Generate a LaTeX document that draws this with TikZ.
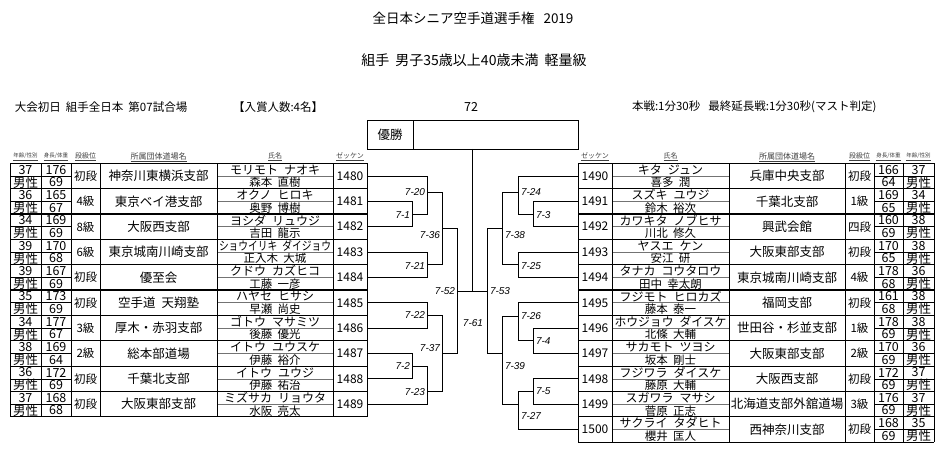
\documentclass[tikz,border=0pt]{standalone}
\usepackage{fontspec}
\usepackage{graphicx}
\setmainfont{Noto Sans CJK JP}
\newfontfamily\matchfont{Liberation Sans}
\usetikzlibrary{calc}

\newlength\fitlen
\newcommand\fitto[2]{\settowidth\fitlen{#2}\ifdim\fitlen>#1\relax\resizebox{#1}{\height}{#2}\else#2\fi}

\begin{document}
\begin{tikzpicture}[x=1pt,y=-1pt,
  every node/.style={inner sep=0pt,outer sep=0pt},
  hd/.style={font=\fontsize{5.5}{6}\selectfont,text=black!75},
  num/.style={font=\fontsize{12.5}{13}\selectfont},
  rank/.style={font=\fontsize{11.5}{12}\selectfont},
  org/.style={font=\fontsize{12.5}{13}\selectfont},
  kana/.style={font=\fontsize{12}{13}\selectfont},
  kanji/.style={font=\fontsize{11.5}{12}\selectfont},
  zk/.style={font=\fontsize{12}{13}\selectfont,minimum width=34pt,minimum height=25.35pt},
  match/.style={font=\matchfont\itshape\fontsize{10}{11}\selectfont},
  head/.style={font=\fontsize{11.5}{12}\selectfont},
  colline/.style={line width=0.8pt},
  rowline/.style={line width=1.2pt},
  half/.style={line width=0.5pt},
  bracket/.style={line width=0.9pt}]
\useasboundingbox (0,0) rectangle (943,449);

% titles
\node (title) [font=\fontsize{13.5}{15}\selectfont] at (473,18) {全日本シニア空手道選手権\hspace{9pt}2019};
\node (event) [font=\fontsize{14}{15}\selectfont] at (474,60) {組手\hspace{6pt}男子35歳以上40歳未満\hspace{6pt}軽量級};
\node (day) [head,anchor=west] at (15,107) {大会初日\hspace{5pt}組手全日本\hspace{5pt}第07試合場};
\node (prize) [head,anchor=west] at (233,107) {【入賞人数:4名】};
\node (count) [font=\fontsize{12.5}{13}\selectfont] at (471,107) {72};
\node (rule) [head,anchor=west] at (632,107) {本戦:1分30秒\hspace{8pt}最終延長戦:1分30秒(マスト判定)};

% winner box
\node (yusho) [draw,line width=0.9pt,minimum width=46pt,minimum height=29pt,anchor=west,
  font=\fontsize{12.5}{13}\selectfont] at (367,134.5) {優勝};
\node (winner) [draw,line width=0.9pt,minimum width=165pt,minimum height=29pt,anchor=west] at (yusho.east) {};

% column heads
\node[hd] at (25.5,157) {\underline{年齢/性別}};
\node[hd] at (56,157) {\underline{身長/体重}};
\node[hd,font=\fontsize{7}{8}\selectfont] at (85.5,157) {\underline{段級位}};
\node[hd,font=\fontsize{8}{9}\selectfont] at (158.5,157) {\underline{所属団体道場名}};
\node[hd,font=\fontsize{7}{8}\selectfont] at (275,157) {\underline{氏名}};
\node[hd,font=\fontsize{7}{8}\selectfont] at (350,157) {\underline{ゼッケン}};
\node[hd,font=\fontsize{7}{8}\selectfont] at (595,157) {\underline{ゼッケン}};
\node[hd,font=\fontsize{7}{8}\selectfont] at (670.5,157) {\underline{氏名}};
\node[hd,font=\fontsize{8}{9}\selectfont] at (787,157) {\underline{所属団体道場名}};
\node[hd,font=\fontsize{7}{8}\selectfont] at (859.5,157) {\underline{段級位}};
\node[hd] at (888.5,157) {\underline{身長/体重}};
\node[hd] at (918.5,157) {\underline{年齢/性別}};

% left table
\foreach \ag/\hg/\wg/\rk/\org/\kf/\kg/\jf/\jg/\zk [count=\i from 0] in {
  37/176/69/初段/神奈川東横浜支部/モリモト/ナオキ/森本/直樹/1480,
  36/165/67/4級/東京ベイ港支部/オクノ/ヒロキ/奥野/博樹/1481,
  34/169/69/8級/大阪西支部/ヨシダ/リュウジ/吉田/龍示/1482,
  39/170/68/6級/東京城南川崎支部/ショウイリキ/ダイジョウ/正入木/大城/1483,
  39/167/69/初段/優至会/クドウ/カズヒコ/工藤/一彦/1484,
  35/173/69/初段/空手道\hspace{6pt}天翔塾/ハヤセ/ヒサシ/早瀬/尚史/1485,
  34/177/67/3級/厚木・赤羽支部/ゴトウ/マサミツ/後藤/優光/1486,
  38/169/64/2級/総本部道場/イトウ/ユウスケ/伊藤/裕介/1487,
  36/172/69/初段/千葉北支部/イトウ/ユウジ/伊藤/祐治/1488,
  37/168/68/初段/大阪東部支部/ミズサカ/リョウタ/水阪/亮太/1489}{
  \pgfmathsetmacro\ty{163.3+25.35*\i}
  \node[num] at (25.5,\ty+6.4) {\ag};
  \node[num] at (25.5,\ty+19) {男性};
  \node[num] at (56,\ty+6.4) {\hg};
  \node[num] at (56,\ty+19) {\wg};
  \node[rank] at (85.5,\ty+12.7) {\rk};
  \node[org] at (158.5,\ty+12.7) {\fitto{113pt}{\org}};
  \node[kana] at (275,\ty+6.4) {\fitto{112pt}{\kf\hspace{.5em}\kg}};
  \node[kanji] at (275,\ty+19.2) {\jf\hspace{.45em}\jg};
  \node[zk] (z\zk) at (350,\ty+12.7) {\zk};
  \draw[half] (10,\ty+12.7) -- (71,\ty+12.7);
  \draw[half,black!55] (217,\ty+12.7) -- (333,\ty+12.7);
}
\foreach \y in {0,...,10}
  \draw[rowline] (10,163.3+25.35*\y) -- (367,163.3+25.35*\y);
\foreach \x in {10,41,71,100,217,333,367}
  \draw[colline] (\x,163.3) -- (\x,416.8);

% right table
\foreach \zk/\kf/\kg/\jf/\jg/\org/\rk/\hg/\wg/\ag [count=\i from 0] in {
  1490/キタ/ジュン/喜多/潤/兵庫中央支部/初段/166/64/37,
  1491/スズキ/ユウジ/鈴木/裕次/千葉北支部/1級/169/65/34,
  1492/カワキタ/ノブヒサ/川北/修久/興武会館/四段/160/69/38,
  1493/ヤスエ/ケン/安江/研/大阪東部支部/初段/170/65/38,
  1494/タナカ/コウタロウ/田中/幸太朗/東京城南川崎支部/4級/178/68/36,
  1495/フジモト/ヒロカズ/藤本/泰一/福岡支部/初段/161/68/38,
  1496/ホウジョウ/ダイスケ/北條/大輔/世田谷・杉並支部/1級/178/69/38,
  1497/サカモト/ツヨシ/坂本/剛士/大阪東部支部/2級/170/69/36,
  1498/フジワラ/ダイスケ/藤原/大輔/大阪西支部/初段/172/69/37,
  1499/スガワラ/マサシ/菅原/正志/北海道支部外舘道場/3級/176/69/37,
  1500/サクライ/タダヒト/櫻井/匡人/西神奈川支部/初段/168/69/35}{
  \pgfmathsetmacro\ty{163.3+25.35*\i}
  \node[zk] (z\zk) at (595,\ty+12.7) {\zk};
  \node[kana] at (670.5,\ty+6.4) {\fitto{112pt}{\kf\hspace{.5em}\kg}};
  \node[kanji] at (670.5,\ty+19.2) {\jf\hspace{.45em}\jg};
  \node[org] at (787,\ty+12.7) {\fitto{113pt}{\org}};
  \node[rank] at (859.5,\ty+12.7) {\rk};
  \node[num] at (888.5,\ty+6.4) {\hg};
  \node[num] at (888.5,\ty+19) {\wg};
  \node[num] at (918.5,\ty+6.4) {\ag};
  \node[num] at (918.5,\ty+19) {男性};
  \draw[half,black!55] (612,\ty+12.7) -- (729,\ty+12.7);
  \draw[half] (874,\ty+12.7) -- (934,\ty+12.7);
}
\foreach \y in {0,...,11}
  \draw[rowline] (578,163.3+25.35*\y) -- (934,163.3+25.35*\y);
\foreach \x in {578,612,729,845,874,903,934}
  \draw[colline] (\x,163.3) -- (\x,442.2);

% bracket
\coordinate (g1) at (412,214);
\coordinate (g20) at (427,192);
\coordinate (g21) at (427,264.7);
\coordinate (g36) at (442,228.3);
\coordinate (g22) at (427,315.4);
\coordinate (g2) at (412,366.1);
\coordinate (g23) at (427,391.7);
\coordinate (g37) at (442,353.5);
\coordinate (g52) at (457,291);
\coordinate (g61) at (472,291);
\coordinate (g3) at (533,214);
\coordinate (g24) at (518,192);
\coordinate (g25) at (518,264.7);
\coordinate (g38) at (502,228.3);
\coordinate (g4) at (533,340.8);
\coordinate (g26) at (518,316);
\coordinate (g5) at (533,391.5);
\coordinate (g27) at (518,404.3);
\coordinate (g39) at (502,353.5);
\coordinate (g53) at (487,291);

\foreach \a/\b in {z1481.east/g1,z1482.east/g1,z1480.east/g20,g1/g20,
  z1483.east/g21,z1484.east/g21,g20/g36,g21/g36,
  z1485.east/g22,z1486.east/g22,z1487.east/g2,z1488.east/g2,
  g2/g23,z1489.east/g23,g22/g37,g23/g37,g36/g52,g37/g52,
  z1491.west/g3,z1492.west/g3,z1490.west/g24,g3/g24,
  z1493.west/g25,z1494.west/g25,g24/g38,g25/g38,
  z1496.west/g4,z1497.west/g4,z1495.west/g26,g4/g26,
  z1498.west/g5,z1499.west/g5,g5/g27,z1500.west/g27,
  g26/g39,g27/g39,g38/g53,g39/g53}
  \draw[bracket] (\a) -| (\b);
\draw[bracket] (g52) -- (g53);
\draw[bracket] (winner.south -| g61) -- (g61);

\node[match,anchor=east] at ($(g1)+(-2,1)$) {7-1};
\node[match,anchor=east] at ($(g20)+(-2,0)$) {7-20};
\node[match,anchor=east] at ($(g21)+(-2,1)$) {7-21};
\node[match,anchor=east] at ($(g36)+(-2,7)$) {7-36};
\node[match,anchor=east] at ($(g22)+(-2,0)$) {7-22};
\node[match,anchor=east] at ($(g2)+(-2,0)$) {7-2};
\node[match,anchor=east] at ($(g23)+(-2,0)$) {7-23};
\node[match,anchor=east] at ($(g37)+(-2,-5)$) {7-37};
\node[match,anchor=east] at ($(g52)+(-2,0)$) {7-52};
\node[match,anchor=west] at ($(g3)+(3,1)$) {7-3};
\node[match,anchor=west] at ($(g24)+(3,0)$) {7-24};
\node[match,anchor=west] at ($(g25)+(3,1)$) {7-25};
\node[match,anchor=west] at ($(g38)+(3,7)$) {7-38};
\node[match,anchor=west] at ($(g26)+(3,0)$) {7-26};
\node[match,anchor=west] at ($(g4)+(3,0)$) {7-4};
\node[match,anchor=west] at ($(g5)+(3,0)$) {7-5};
\node[match,anchor=west] at ($(g27)+(3,12)$) {7-27};
\node[match,anchor=west] at ($(g39)+(3,13)$) {7-39};
\node[match,anchor=west] at ($(g53)+(3,0)$) {7-53};
\node[match] at ($(g61)+(1,32)$) {7-61};
\end{tikzpicture}
\end{document}
